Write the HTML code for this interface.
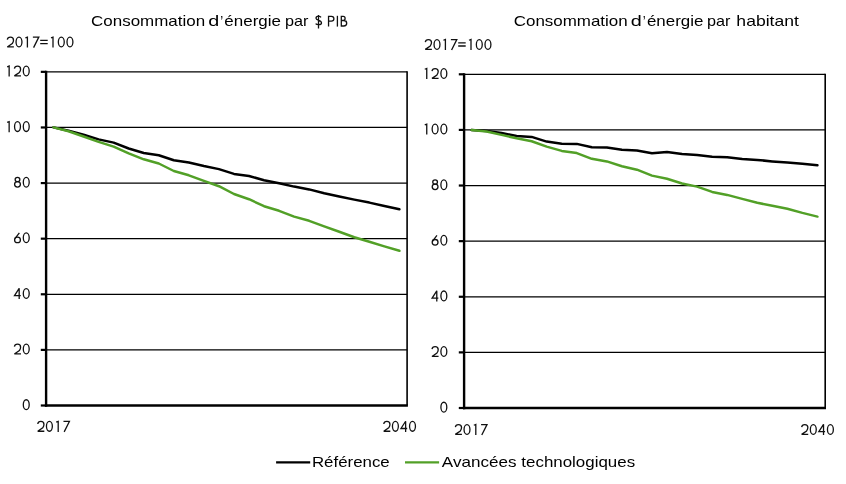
<!DOCTYPE html>
<html><head><meta charset="utf-8"><style>
html,body{margin:0;padding:0;background:#fff;}
svg{display:block;will-change:transform;}
text{font-family:"Liberation Sans", sans-serif;font-size:15.0px;fill:#000;}
</style></head><body>
<svg width="846" height="484" viewBox="0 0 846 484">
<rect width="846" height="484" fill="#fff"/>
<text x="91.14" y="26.4" textLength="113.96" lengthAdjust="spacingAndGlyphs">Consommation</text>
<text x="208.27" y="26.4" textLength="11.01" lengthAdjust="spacingAndGlyphs">d</text>
<text x="220.18" y="26.4" textLength="2.94" lengthAdjust="spacingAndGlyphs">’</text>
<text x="224.38" y="26.4" textLength="56.57" lengthAdjust="spacingAndGlyphs">énergie</text>
<text x="284.96" y="26.4" textLength="23.41" lengthAdjust="spacingAndGlyphs">par</text>
<text x="513.74" y="26.4" textLength="113.96" lengthAdjust="spacingAndGlyphs">Consommation</text>
<text x="630.87" y="26.4" textLength="11.01" lengthAdjust="spacingAndGlyphs">d</text>
<text x="642.78" y="26.4" textLength="2.94" lengthAdjust="spacingAndGlyphs">’</text>
<text x="646.98" y="26.4" textLength="56.37" lengthAdjust="spacingAndGlyphs">énergie</text>
<text x="706.96" y="26.4" textLength="23.41" lengthAdjust="spacingAndGlyphs">par</text>
<text x="736.38" y="26.4" textLength="62.45" lengthAdjust="spacingAndGlyphs">habitant</text>
<g fill="none" stroke="#111" stroke-width="1.3" stroke-linejoin="miter" stroke-miterlimit="3"><path d="M328.55,26.6 V16.4 H331.4 C333.1,16.4 333.9,17.5 333.9,18.8 C333.9,20.1 333.1,21.1 331.4,21.1 H328.55" /><path d="M337.4,15.8 V26.6" /><path d="M321.0,17.4 C320.5,16.6 319.6,16.2 318.6,16.2 C317.1,16.2 316.0,17.0 316.0,18.3 C316.0,19.6 317.2,20.0 318.6,20.4 C320.3,20.9 321.5,21.5 321.5,22.9 C321.5,24.3 320.2,24.65 318.6,24.65 C317.3,24.65 316.2,24.3 315.6,23.6 M318.5,14.9 V28.4" /><path d="M341.3,26.0 V16.4 H343.2 C344.5,16.4 345.1,17.3 345.1,18.45 C345.1,19.6 344.4,20.5 343.1,20.5 H341.3 M343.1,20.5 H343.7 C345.6,20.5 346.7,21.6 346.7,23.25 C346.7,25.0 345.6,26.0 343.7,26.0 H340.7" /></g>
<g fill="none" stroke="#111" stroke-width="1.3" stroke-linejoin="miter" stroke-miterlimit="3"><path d="M7.30,39.70 C7.55,37.84 8.97,37.15 10.40,37.15 C12.14,37.15 13.50,38.52 13.50,40.19 C13.50,41.56 13.07,42.34 12.26,43.52 L7.30,46.95 L13.87,46.95"/><ellipse cx="19.00" cy="42.05" rx="2.95" ry="4.90"/><path d="M25.40,37.85 L27.40,37.10 L27.40,47.60"/><path d="M32.88,37.15 L38.80,37.15 L33.58,47.60"/><path d="M40.20,40.38 H47.70 M40.20,43.62 H47.70"/><path d="M51.00,37.85 L53.00,37.10 L53.00,47.60"/><ellipse cx="61.30" cy="42.05" rx="2.95" ry="4.90"/><ellipse cx="69.95" cy="42.05" rx="2.95" ry="4.90"/><path d="M425.30,42.10 C425.55,40.24 426.97,39.55 428.40,39.55 C430.14,39.55 431.50,40.92 431.50,42.59 C431.50,43.96 431.07,44.74 430.26,45.92 L425.30,49.35 L431.87,49.35"/><ellipse cx="437.00" cy="44.45" rx="2.95" ry="4.90"/><path d="M443.40,40.25 L445.40,39.50 L445.40,50.00"/><path d="M450.88,39.55 L456.80,39.55 L451.58,50.00"/><path d="M458.20,42.78 H465.70 M458.20,46.02 H465.70"/><path d="M469.00,40.25 L471.00,39.50 L471.00,50.00"/><ellipse cx="479.30" cy="44.45" rx="2.95" ry="4.90"/><ellipse cx="487.95" cy="44.45" rx="2.95" ry="4.90"/></g>
<line x1="46.1" y1="71.85" x2="407.1" y2="71.85" stroke="#000" stroke-width="1.25"/>
<line x1="46.1" y1="127.46" x2="407.1" y2="127.46" stroke="#000" stroke-width="1.25"/>
<line x1="46.1" y1="183.07" x2="407.1" y2="183.07" stroke="#000" stroke-width="1.25"/>
<line x1="46.1" y1="238.67" x2="407.1" y2="238.67" stroke="#000" stroke-width="1.25"/>
<line x1="46.1" y1="294.28" x2="407.1" y2="294.28" stroke="#000" stroke-width="1.25"/>
<line x1="46.1" y1="349.89" x2="407.1" y2="349.89" stroke="#000" stroke-width="1.25"/>
<line x1="407.1" y1="71.35" x2="407.1" y2="405.50" stroke="#000" stroke-width="1.6"/>
<line x1="46.1" y1="70.85" x2="46.1" y2="406.70" stroke="#000" stroke-width="2.4"/>
<line x1="44.9" y1="405.50" x2="407.90000000000003" y2="405.50" stroke="#000" stroke-width="2.5"/>
<line x1="40.80" y1="71.85" x2="46.1" y2="71.85" stroke="#000" stroke-width="2.2"/>
<line x1="40.80" y1="127.46" x2="46.1" y2="127.46" stroke="#000" stroke-width="2.2"/>
<line x1="40.80" y1="183.07" x2="46.1" y2="183.07" stroke="#000" stroke-width="2.2"/>
<line x1="40.80" y1="238.67" x2="46.1" y2="238.67" stroke="#000" stroke-width="2.2"/>
<line x1="40.80" y1="294.28" x2="46.1" y2="294.28" stroke="#000" stroke-width="2.2"/>
<line x1="40.80" y1="349.89" x2="46.1" y2="349.89" stroke="#000" stroke-width="2.2"/>
<line x1="40.80" y1="405.50" x2="46.1" y2="405.50" stroke="#000" stroke-width="2.2"/>
<g fill="none" stroke="#111" stroke-width="1.3" stroke-linejoin="miter" stroke-miterlimit="3"><path d="M7.15,66.80 L9.15,66.05 L9.15,76.55"/><path d="M14.40,68.65 C14.65,66.79 16.07,66.10 17.50,66.10 C19.24,66.10 20.60,67.47 20.60,69.14 C20.60,70.51 20.17,71.29 19.36,72.47 L14.40,75.90 L20.97,75.90"/><ellipse cx="26.25" cy="71.00" rx="2.95" ry="4.90"/><path d="M7.15,122.41 L9.15,121.66 L9.15,132.16"/><ellipse cx="17.50" cy="126.61" rx="2.95" ry="4.90"/><ellipse cx="26.25" cy="126.61" rx="2.95" ry="4.90"/><ellipse cx="17.50" cy="179.47" rx="2.35" ry="2.16"/><ellipse cx="17.50" cy="184.37" rx="2.90" ry="2.74"/><ellipse cx="26.25" cy="182.22" rx="2.95" ry="4.90"/><path d="M19.36,232.92 L14.95,238.61"/><ellipse cx="17.50" cy="239.88" rx="2.90" ry="2.84"/><ellipse cx="26.25" cy="237.82" rx="2.95" ry="4.90"/><path d="M19.18,298.98 L19.18,288.33 L14.50,295.59 L20.74,295.59"/><ellipse cx="26.25" cy="293.43" rx="2.95" ry="4.90"/><path d="M14.40,346.69 C14.65,344.83 16.07,344.14 17.50,344.14 C19.24,344.14 20.60,345.51 20.60,347.18 C20.60,348.55 20.17,349.34 19.36,350.51 L14.40,353.94 L20.97,353.94"/><ellipse cx="26.25" cy="349.04" rx="2.95" ry="4.90"/><ellipse cx="26.25" cy="404.65" rx="2.95" ry="4.90"/><path d="M37.75,424.00 C38.00,422.14 39.42,421.45 40.85,421.45 C42.59,421.45 43.95,422.82 43.95,424.49 C43.95,425.86 43.52,426.64 42.71,427.82 L37.75,431.25 L44.32,431.25"/><ellipse cx="49.40" cy="426.35" rx="2.95" ry="4.90"/><path d="M56.20,422.15 L58.20,421.40 L58.20,431.90"/><path d="M63.48,421.45 L69.40,421.45 L64.18,431.90"/><path d="M383.75,424.00 C384.00,422.14 385.42,421.45 386.85,421.45 C388.59,421.45 389.95,422.82 389.95,424.49 C389.95,425.86 389.52,426.64 388.71,427.82 L383.75,431.25 L390.32,431.25"/><ellipse cx="395.40" cy="426.35" rx="2.95" ry="4.90"/><path d="M405.63,431.90 L405.63,421.25 L400.95,428.51 L407.19,428.51"/><ellipse cx="412.50" cy="426.35" rx="2.95" ry="4.90"/></g>
<polyline points="53.50,127.35 68.54,130.70 83.58,134.70 98.62,139.40 113.66,142.60 128.70,148.50 143.74,153.00 158.78,155.20 173.82,160.30 188.86,162.50 203.90,166.00 218.94,169.10 233.98,173.90 249.02,176.00 264.06,180.20 279.10,183.20 294.14,186.60 309.18,189.40 324.22,193.30 339.26,196.50 354.30,199.60 369.34,202.60 384.38,206.00 399.42,209.30" fill="none" stroke="#000" stroke-width="2.5" stroke-linejoin="round" stroke-linecap="round"/>
<polyline points="53.50,127.35 68.54,131.20 83.58,136.50 98.62,141.90 113.66,146.60 128.70,153.40 143.74,159.30 158.78,163.50 173.82,171.00 188.86,175.30 203.90,180.80 218.94,186.20 233.98,194.00 249.02,199.20 264.06,206.20 279.10,210.80 294.14,216.60 309.18,220.80 324.22,226.40 339.26,231.80 354.30,237.20 369.34,241.80 384.38,246.40 399.42,250.80" fill="none" stroke="#52a027" stroke-width="2.5" stroke-linejoin="round" stroke-linecap="round"/>
<line x1="464.1" y1="74.30" x2="825.2" y2="74.30" stroke="#000" stroke-width="1.25"/>
<line x1="464.1" y1="129.92" x2="825.2" y2="129.92" stroke="#000" stroke-width="1.25"/>
<line x1="464.1" y1="185.53" x2="825.2" y2="185.53" stroke="#000" stroke-width="1.25"/>
<line x1="464.1" y1="241.15" x2="825.2" y2="241.15" stroke="#000" stroke-width="1.25"/>
<line x1="464.1" y1="296.77" x2="825.2" y2="296.77" stroke="#000" stroke-width="1.25"/>
<line x1="464.1" y1="352.38" x2="825.2" y2="352.38" stroke="#000" stroke-width="1.25"/>
<line x1="825.2" y1="73.80" x2="825.2" y2="408.00" stroke="#000" stroke-width="1.6"/>
<line x1="464.1" y1="73.30" x2="464.1" y2="409.20" stroke="#000" stroke-width="2.4"/>
<line x1="462.90000000000003" y1="408.00" x2="826.0" y2="408.00" stroke="#000" stroke-width="2.5"/>
<line x1="458.80" y1="74.30" x2="464.1" y2="74.30" stroke="#000" stroke-width="2.2"/>
<line x1="458.80" y1="129.92" x2="464.1" y2="129.92" stroke="#000" stroke-width="2.2"/>
<line x1="458.80" y1="185.53" x2="464.1" y2="185.53" stroke="#000" stroke-width="2.2"/>
<line x1="458.80" y1="241.15" x2="464.1" y2="241.15" stroke="#000" stroke-width="2.2"/>
<line x1="458.80" y1="296.77" x2="464.1" y2="296.77" stroke="#000" stroke-width="2.2"/>
<line x1="458.80" y1="352.38" x2="464.1" y2="352.38" stroke="#000" stroke-width="2.2"/>
<line x1="458.80" y1="408.00" x2="464.1" y2="408.00" stroke="#000" stroke-width="2.2"/>
<g fill="none" stroke="#111" stroke-width="1.3" stroke-linejoin="miter" stroke-miterlimit="3"><path d="M424.75,69.25 L426.75,68.50 L426.75,79.00"/><path d="M432.00,71.10 C432.25,69.24 433.67,68.55 435.10,68.55 C436.84,68.55 438.20,69.92 438.20,71.59 C438.20,72.96 437.77,73.74 436.96,74.92 L432.00,78.35 L438.57,78.35"/><ellipse cx="443.85" cy="73.45" rx="2.95" ry="4.90"/><path d="M424.75,124.87 L426.75,124.12 L426.75,134.62"/><ellipse cx="435.10" cy="129.07" rx="2.95" ry="4.90"/><ellipse cx="443.85" cy="129.07" rx="2.95" ry="4.90"/><ellipse cx="435.10" cy="181.94" rx="2.35" ry="2.16"/><ellipse cx="435.10" cy="186.84" rx="2.90" ry="2.74"/><ellipse cx="443.85" cy="184.68" rx="2.95" ry="4.90"/><path d="M436.96,235.40 L432.55,241.08"/><ellipse cx="435.10" cy="242.36" rx="2.90" ry="2.84"/><ellipse cx="443.85" cy="240.30" rx="2.95" ry="4.90"/><path d="M436.78,301.47 L436.78,290.82 L432.10,298.07 L438.34,298.07"/><ellipse cx="443.85" cy="295.92" rx="2.95" ry="4.90"/><path d="M432.00,349.18 C432.25,347.32 433.67,346.63 435.10,346.63 C436.84,346.63 438.20,348.01 438.20,349.67 C438.20,351.04 437.77,351.83 436.96,353.00 L432.00,356.43 L438.57,356.43"/><ellipse cx="443.85" cy="351.53" rx="2.95" ry="4.90"/><ellipse cx="443.85" cy="407.15" rx="2.95" ry="4.90"/><path d="M455.35,427.10 C455.60,425.24 457.02,424.55 458.45,424.55 C460.19,424.55 461.55,425.92 461.55,427.59 C461.55,428.96 461.12,429.74 460.31,430.92 L455.35,434.35 L461.92,434.35"/><ellipse cx="467.00" cy="429.45" rx="2.95" ry="4.90"/><path d="M473.80,425.25 L475.80,424.50 L475.80,435.00"/><path d="M481.08,424.55 L487.00,424.55 L481.78,435.00"/><path d="M801.65,427.10 C801.90,425.24 803.32,424.55 804.75,424.55 C806.49,424.55 807.85,425.92 807.85,427.59 C807.85,428.96 807.42,429.74 806.61,430.92 L801.65,434.35 L808.22,434.35"/><ellipse cx="813.30" cy="429.45" rx="2.95" ry="4.90"/><path d="M823.53,435.00 L823.53,424.35 L818.85,431.61 L825.09,431.61"/><ellipse cx="830.40" cy="429.45" rx="2.95" ry="4.90"/></g>
<polyline points="471.50,129.90 486.54,130.90 501.58,133.10 516.62,135.90 531.66,136.90 546.70,141.60 561.74,143.70 576.78,143.90 591.82,147.30 606.86,147.50 621.90,149.70 636.94,150.40 651.98,153.20 667.02,151.90 682.06,154.00 697.10,155.10 712.14,156.70 727.18,157.30 742.22,159.10 757.26,159.90 772.30,161.40 787.34,162.60 802.38,163.80 817.42,165.30" fill="none" stroke="#000" stroke-width="2.5" stroke-linejoin="round" stroke-linecap="round"/>
<polyline points="471.50,129.90 486.54,131.50 501.58,134.90 516.62,138.30 531.66,141.20 546.70,146.60 561.74,150.90 576.78,153.10 591.82,158.80 606.86,161.40 621.90,166.20 636.94,169.70 651.98,175.60 667.02,178.70 682.06,183.50 697.10,186.60 712.14,191.90 727.18,194.90 742.22,198.90 757.26,202.80 772.30,205.80 787.34,208.80 802.38,212.90 817.42,216.60" fill="none" stroke="#52a027" stroke-width="2.5" stroke-linejoin="round" stroke-linecap="round"/>
<line x1="276.1" y1="462.4" x2="310.2" y2="462.4" stroke="#000" stroke-width="2.4"/>
<line x1="405" y1="462.4" x2="439.1" y2="462.4" stroke="#52a027" stroke-width="2.4"/>
<text x="311.92" y="466.5" textLength="77.83" lengthAdjust="spacingAndGlyphs">Référence</text>
<text x="441.87" y="466.5" textLength="74.65" lengthAdjust="spacingAndGlyphs">Avancées</text>
<text x="521.34" y="466.5" textLength="113.77" lengthAdjust="spacingAndGlyphs">technologiques</text>
</svg>
</body></html>
